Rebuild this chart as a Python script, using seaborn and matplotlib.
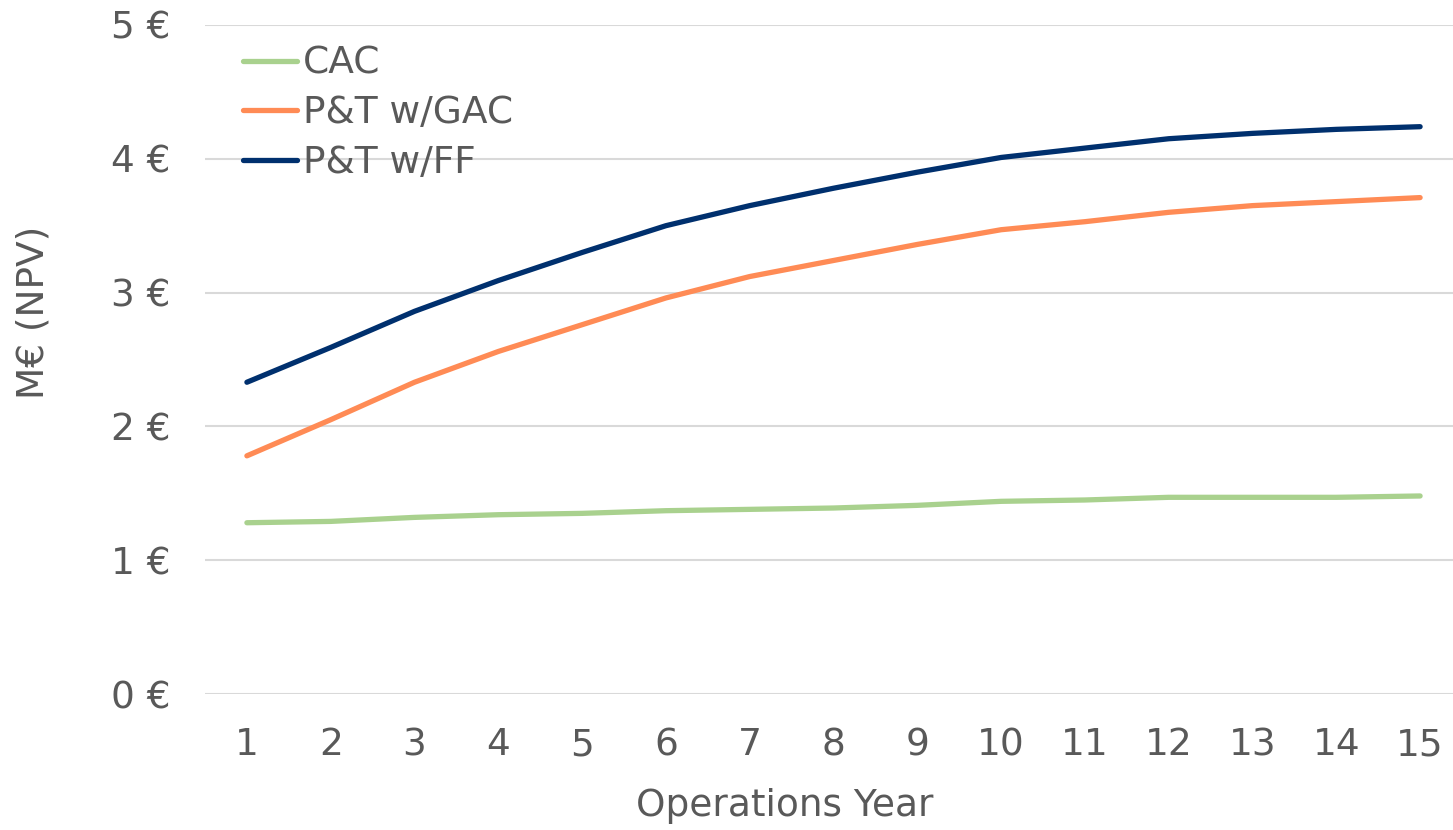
import matplotlib
matplotlib.use("Agg")
import matplotlib.pyplot as plt
import seaborn as sns
import pandas as pd
from matplotlib.ticker import FuncFormatter

years = list(range(1, 16))
cac = [1.28, 1.29, 1.32, 1.34, 1.35, 1.37, 1.38, 1.39, 1.41, 1.44, 1.45, 1.47, 1.47, 1.47, 1.48]
pt_gac = [1.78, 2.05, 2.33, 2.56, 2.76, 2.96, 3.12, 3.24, 3.36, 3.47, 3.53, 3.60, 3.65, 3.68, 3.71]
pt_ff = [2.33, 2.59, 2.86, 3.09, 3.30, 3.50, 3.65, 3.78, 3.90, 4.01, 4.08, 4.15, 4.19, 4.22, 4.24]
series_names = ["CAC", "P&T w/GAC", "P&T w/FF"]
colors = ["#A9D18E", "#FF8B55", "#00306E"]
y_ticks = [0, 1, 2, 3, 4, 5]

df = pd.DataFrame({
    "year": years * 3,
    "npv": cac + pt_gac + pt_ff,
    "series": sum([[n] * len(years) for n in series_names], []),
})

sns.set_style("white")
plt.rcParams["font.family"] = ["DejaVu Sans"]
text_color = "#595959"

W, H = 1453, 830
fig = plt.figure(figsize=(W / 100, H / 100), dpi=100)
ax = fig.add_axes([205 / W, 1 - 694 / H, 1257 / W, 669 / H])

sns.lineplot(data=df, x="year", y="npv", hue="series", palette=dict(zip(series_names, colors)),
             hue_order=series_names, linewidth=3.8, ax=ax, legend=False,
             solid_capstyle="round")

ax.set_xlim(0.5, 15.5)
ax.set_ylim(0, 5)
ax.set_yticks(y_ticks)
ax.yaxis.set_major_formatter(FuncFormatter(lambda v, p: f"{int(v)} €"))
ax.set_xticks(years)
ax.grid(axis="y", color="#D9D9D9", linewidth=1.5)
ax.grid(axis="x", visible=False)
ax.set_axisbelow(True)
for s in ax.spines.values():
    s.set_visible(False)
ax.tick_params(axis="both", length=0, labelsize=27, colors=text_color)
ax.tick_params(axis="y", pad=25)
ax.tick_params(axis="x", pad=24)

ax.set_xlabel("Operations Year", fontsize=27, color=text_color)
ax.set_ylabel("M€ (NPV)", fontsize=27, color=text_color)
ax.xaxis.set_label_coords((785 - 205) / 1257, (694 - 788) / 669)
ax.yaxis.set_label_coords((52 - 205) / 1257, (694 - 312) / 669)

handles = [plt.Line2D([], [], color=c, linewidth=3.8, solid_capstyle="round") for c in colors]
leg = ax.legend(handles, series_names, loc="upper left", bbox_to_anchor=(0.030, 0.969),
                frameon=False, fontsize=27, handlelength=1.45, handletextpad=0.15,
                labelspacing=0.36, borderaxespad=0, borderpad=0)
for t in leg.get_texts():
    t.set_color(text_color)

fig.savefig("out.png", dpi=100)
